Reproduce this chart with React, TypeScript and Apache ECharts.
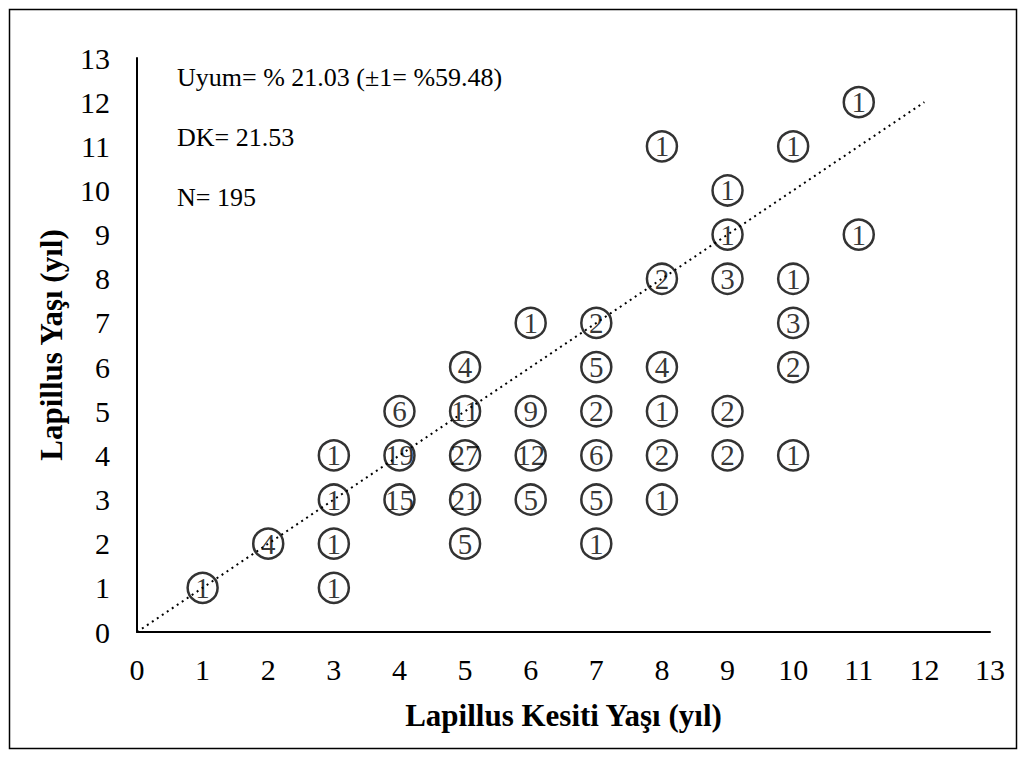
import React, { useEffect, useRef } from "react";
import * as echarts from "echarts";

const sectionAge = [1, 2, 3, 3, 3, 3, 4, 4, 4, 5, 5, 5, 5, 5, 6, 6, 6, 6, 7, 7, 7, 7, 7, 7, 8, 8, 8, 8, 8, 8, 9, 9, 9, 9, 9, 10, 10, 10, 10, 10, 11, 11];
const wholeAge = [1, 2, 1, 2, 3, 4, 3, 4, 5, 2, 3, 4, 5, 6, 3, 4, 5, 7, 2, 3, 4, 5, 6, 7, 3, 4, 5, 6, 8, 11, 4, 5, 8, 9, 10, 4, 6, 7, 8, 11, 9, 12];
const counts = [1, 4, 1, 1, 1, 1, 15, 19, 6, 5, 21, 27, 11, 4, 5, 12, 9, 1, 1, 5, 6, 2, 5, 2, 1, 2, 1, 4, 2, 1, 2, 2, 3, 1, 1, 1, 2, 3, 1, 1, 1, 1];
const lineX = [0, 12];
const statsText = ["Uyum= % 21.03 (±1= %59.48)", "DK= 21.53", "N= 195"];

const FONT = "'Liberation Serif', 'Times New Roman', serif";

export default function App() {
  const ref = useRef<HTMLDivElement>(null);
  useEffect(() => {
    if (!ref.current) return;
    const chart = echarts.init(ref.current, undefined, { renderer: "svg" });
    const scatterData = sectionAge.map((x, i) => [x, wholeAge[i], counts[i]]);
    chart.setOption({
      animation: false,
      backgroundColor: "#ffffff",
      textStyle: { fontFamily: FONT },
      grid: { left: 137, right: 36, top: 58, bottom: 126 },
      xAxis: {
        type: "value",
        min: 0,
        max: 13,
        interval: 1,
        name: "Lapillus Kesiti Yaşı (yıl)",
        nameLocation: "middle",
        nameGap: 68,
        nameTextStyle: { fontFamily: FONT, fontSize: 31, fontWeight: "bold", color: "#000" },
        axisLine: { lineStyle: { color: "#000", width: 2 } },
        axisTick: { show: false },
        splitLine: { show: false },
        axisLabel: { fontFamily: FONT, fontSize: 30, color: "#000", margin: 22 },
      },
      yAxis: {
        type: "value",
        min: 0,
        max: 13,
        interval: 1,
        name: "Lapillus Yaşı (yıl)",
        nameLocation: "middle",
        nameGap: 70,
        nameRotate: 90,
        nameTextStyle: { fontFamily: FONT, fontSize: 31, fontWeight: "bold", color: "#000" },
        axisLine: { show: true, lineStyle: { color: "#000", width: 2 } },
        axisTick: { show: false },
        splitLine: { show: false },
        axisLabel: { fontFamily: FONT, fontSize: 30, color: "#000", margin: 27 },
      },
      graphic: [
        {
          type: "rect",
          shape: { x: 9.5, y: 9.5, width: 1007, height: 739 },
          style: { fill: "none", stroke: "#000", lineWidth: 1.5 },
          z: 0,
        },
        ...statsText.map((t, i) => ({
          type: "text",
          left: 177,
          top: 64 + i * 60,
          style: { text: t, font: `26px ${FONT}`, fill: "#000" },
        })),
      ],
      series: [
        {
          type: "scatter",
          data: scatterData,
          symbol: "circle",
          symbolSize: 30,
          itemStyle: { color: "rgba(255,255,255,0)", borderColor: "#000", borderWidth: 2.5 },
          label: {
            show: true,
            position: "inside",
            formatter: (p: any) => String(p.value[2]),
            fontFamily: FONT,
            fontSize: 29,
            color: "#000",
          },
          z: 2,
        },
        {
          type: "line",
          data: lineX.map((v) => [v, v]),
          symbol: "none",
          lineStyle: { color: "#000", width: 2, type: [2, 4] },
          z: 3,
        },
      ],
    });
    return () => chart.dispose();
  }, []);
  return <div ref={ref} style={{ position: "fixed", left: 0, top: 0, width: 1026, height: 758 }} />;
}
